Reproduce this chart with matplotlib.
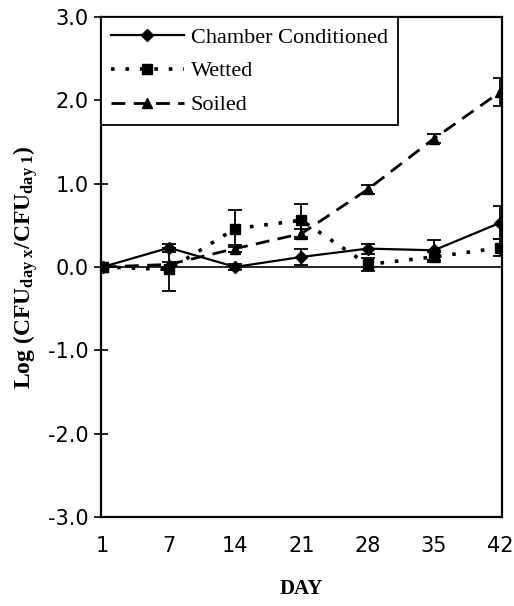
import numpy as np
import matplotlib
matplotlib.use('Agg')
import matplotlib.pyplot as plt

# === DATOS ===
days = ['1', '7', '14', '21', '28', '35', '42']

chamber = [0.0, 0.23, 0.0, 0.12, 0.22, 0.20, 0.53]
chamber_err = [0.0, 0.05, 0.04, 0.10, 0.06, 0.12, 0.20]

wetted = [0.0, -0.03, 0.46, 0.56, 0.03, 0.12, 0.23]
wetted_err = [0.0, 0.26, 0.22, 0.20, 0.08, 0.06, 0.10]

soiled = [0.0, 0.03, 0.22, 0.40, 0.93, 1.54, 2.10]
soiled_err = [0.0, 0.03, 0.04, 0.06, 0.05, 0.05, 0.17]

plt.rcParams['mathtext.fontset'] = 'custom'
plt.rcParams['mathtext.rm'] = 'Liberation Serif:bold'
plt.rcParams['mathtext.it'] = 'Liberation Serif:italic'
plt.rcParams['mathtext.bf'] = 'Liberation Serif:bold'

fig = plt.figure(figsize=(5.14, 6.06), dpi=100)
ax = fig.add_axes([0.196, 0.147, 0.781, 0.825])

x = np.arange(len(days))
eb = dict(fmt='none', ecolor='black', capsize=5, elinewidth=1.3, capthick=1.3)

# barras de error
ax.errorbar(x, chamber, yerr=chamber_err, **eb)
ax.errorbar(x, wetted, yerr=wetted_err, **eb)
ax.errorbar(x, soiled, yerr=soiled_err, **eb)

# series
ax.plot(x, chamber, color='black', marker='D', ms=6, ls='-', lw=1.6,
        label='Chamber Conditioned')
ax.plot(x, wetted, color='black', marker='s', ms=7, ls=(0, (1, 3)), lw=2.6,
        label='Wetted')
ax.plot(x, soiled, color='black', marker='^', ms=7, ls=(0, (5, 3)), lw=2.0,
        label='Soiled')

ax.axhline(0, color='black', lw=1.2, zorder=1)

ax.set_xlim(-0.03, 6.03)
ax.set_ylim(-3.0, 3.0)
ax.set_xticks(x)
ax.set_xticklabels(days)
ax.set_yticks([-3, -2, -1, 0, 1, 2, 3])
ax.set_yticklabels(['-3.0', '-2.0', '-1.0', '0.0', '1.0', '2.0', '3.0'])
ax.tick_params(axis='x', length=0, pad=14, labelsize=15)
ax.tick_params(axis='y', direction='inout', length=10, width=1.2, labelsize=15)
for lab in ax.get_xticklabels() + ax.get_yticklabels():
    lab.set_fontfamily('DejaVu Sans')

for s in ax.spines.values():
    s.set_linewidth(1.6)

ax.set_xlabel('DAY', fontsize=15, fontweight='bold', family='Liberation Serif', labelpad=16)
ax.set_ylabel(r'Log (CFU$_{\mathrm{day\ x}}$/CFU$_{\mathrm{day\ 1}}$)', fontsize=17,
              fontweight='bold', family='Liberation Serif', labelpad=6)

leg = ax.legend(loc='upper left', borderaxespad=0, fancybox=False, edgecolor='black',
                framealpha=1, handlelength=3.3, handletextpad=0.3, labelspacing=0.6,
                borderpad=0.45, prop={'family': 'Liberation Serif', 'size': 16})
leg.get_frame().set_linewidth(1.3)

fig.savefig('out.png', dpi=100)
